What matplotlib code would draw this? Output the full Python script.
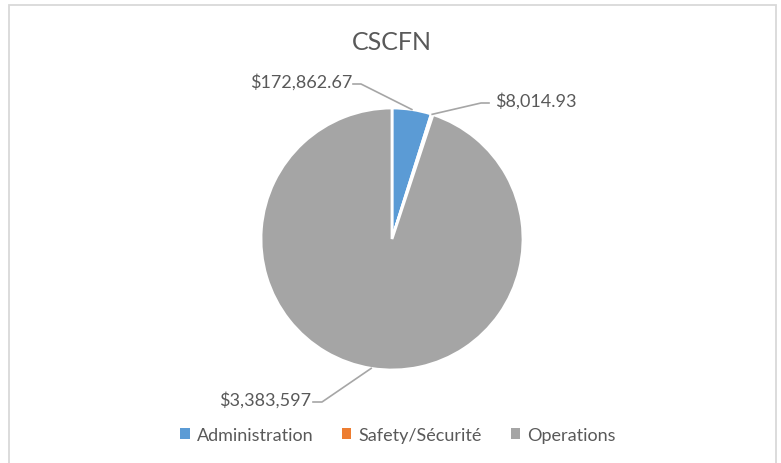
import matplotlib.pyplot as plt
import numpy as np
from matplotlib.patches import Rectangle

plt.rcParams['font.family'] = ['Lato', 'DejaVu Sans']

categories = ["Administration", "Safety/Sécurité", "Operations"]
values = [172862.67, 8014.93, 3383597]
value_labels = ["$172,862.67", "$8,014.93", "$3,383,597"]
colors = ["#5B9BD5", "#ED7D31", "#A5A5A5"]
text_color = "#595959"

W, H = 781, 464
fig = plt.figure(figsize=(W / 100, H / 100), dpi=100)
ax = fig.add_axes([0, 0, 1, 1])

# chart frame
ax.add_patch(Rectangle((8.5, -5), 767.5, H - 5.5 + 5, fill=False, ec="#D9D9D9", lw=1.3))

cx, cy, r = 392, H - 240, 131
wedges, _ = ax.pie(values, colors=colors, startangle=90, counterclock=False,
                   center=(cx, cy), radius=r, frame=True,
                   wedgeprops=dict(edgecolor="white", linewidth=2))
ax.set_xlim(0, W)
ax.set_ylim(0, H)
ax.axis("off")

# label text positions (pixel coords) and leader line elbows
label_pos = [(352, H - 82, "right"), (495, H - 101, "left"), (311, H - 400, "right")]
elbows = [(361, H - 85), (481, H - 104), (322, H - 403)]
ends = [(353, H - 85), (489, H - 104), (313, H - 403)]

for w, lab, (tx, ty, ha), el, en in zip(wedges, value_labels, label_pos, elbows, ends):
    ang = np.deg2rad((w.theta1 + w.theta2) / 2)
    px = cx + r * np.cos(ang)
    py = cy + r * np.sin(ang)
    ax.plot([px, el[0], en[0]], [py, el[1], en[1]], color="#A6A6A6", lw=1.2, zorder=1)
    ax.text(tx, ty, lab, ha=ha, va="center", fontsize=13, color=text_color)

ax.text(W / 2 + 1.5, H - 43, "CSCFN", ha="center", va="center", fontsize=18, color=text_color)

leg = ax.legend(wedges, categories, loc="center", bbox_to_anchor=(398 / W, (H - 436) / H),
                ncol=3, frameon=False, fontsize=13, handlelength=0.5, handleheight=0.5,
                handletextpad=0.4, columnspacing=1.6, labelcolor=text_color)
for h in leg.legend_handles:
    h.set_edgecolor("none")

fig.savefig("out.png", dpi=100)
